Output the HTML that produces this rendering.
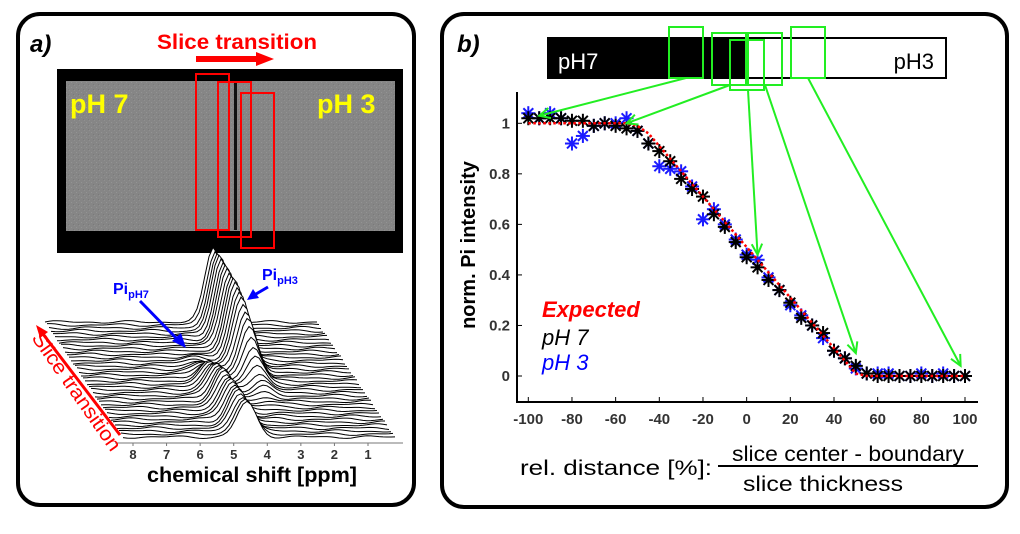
<!DOCTYPE html>
<html><head><meta charset="utf-8">
<style>
html,body{margin:0;padding:0;background:#fff;}
body{width:1020px;height:529px;overflow:hidden;font-family:"Liberation Sans",sans-serif;}
svg text{font-family:"Liberation Sans",sans-serif;}
</style></head>
<body>
<svg id="fig" width="1020" height="529" viewBox="0 0 1020 529" xmlns="http://www.w3.org/2000/svg">
<defs>
<pattern id="noise" width="5" height="5" patternUnits="userSpaceOnUse">
<rect width="5" height="5" fill="#868686"/><rect x="1" y="2" width="1" height="1" fill="#949494"/><rect x="3" y="4" width="1" height="1" fill="#7a7a7a"/><rect x="4" y="0" width="1" height="1" fill="#909090"/>
</pattern>
</defs>
<!-- Panel a -->
<g>
<rect x="18" y="14" width="396" height="491" rx="22" fill="#fff" stroke="#000" stroke-width="4"/>
<text x="30" y="52" font-size="24" font-weight="bold" font-style="italic">a)</text>
<text x="237" y="49" font-size="21" font-weight="bold" fill="#f00" text-anchor="middle" textLength="160" lengthAdjust="spacingAndGlyphs">Slice transition</text>
<g><rect x="196" y="56" width="62" height="6" fill="#f00"/><polygon points="256,52 274,59 256,66" fill="#f00"/></g>
<rect x="57" y="69" width="346" height="184" fill="#000"/>
<rect x="66" y="81" width="329" height="150" fill="url(#noise)"/>
<rect x="234" y="83" width="3" height="147" fill="#111"/>
<text x="70" y="113" font-size="27" font-weight="bold" fill="#ff0">pH 7</text>
<text x="317" y="113" font-size="27" font-weight="bold" fill="#ff0">pH 3</text>
<g fill="none" stroke="#f00" stroke-width="2">
<rect x="196" y="74" width="33" height="156"/><rect x="218" y="82" width="33" height="155"/><rect x="241" y="93" width="33" height="155"/>
</g>
<g id="waterfall"></g>
<line x1="115" y1="443" x2="403" y2="443" stroke="#777" stroke-width="1"/>
<g id="ppmTicks" font-size="13" font-weight="bold" fill="#333" text-anchor="middle"></g>
<text x="252" y="482" font-size="21" font-weight="bold" text-anchor="middle" textLength="210" lengthAdjust="spacingAndGlyphs">chemical shift [ppm]</text>
<g><text x="113" y="294" font-size="16" font-weight="bold" fill="#00f">Pi<tspan font-size="11" dy="4">pH7</tspan></text>
<line x1="140" y1="301" x2="178" y2="340" stroke="#00f" stroke-width="3"/><polygon points="186,348 172,341 181,333" fill="#00f"/></g>
<g><text x="262" y="280" font-size="16" font-weight="bold" fill="#00f">Pi<tspan font-size="11" dy="4">pH3</tspan></text>
<line x1="268" y1="287" x2="256" y2="294" stroke="#00f" stroke-width="3"/><polygon points="247,300 253,289 259,298" fill="#00f"/></g>
<g>
<line x1="120" y1="435" x2="43" y2="334" stroke="#f00" stroke-width="3"/><polygon points="36,325 48,332 40,338" fill="#f00"/>
<text x="0" y="0" font-size="20" fill="#f00" transform="translate(31,338) rotate(55)" textLength="140" lengthAdjust="spacingAndGlyphs">Slice transition</text>
</g>
</g>
<!-- Panel b -->
<g>
<rect x="442" y="14" width="565" height="493" rx="22" fill="#fff" stroke="#000" stroke-width="4"/>
<text x="457" y="52" font-size="24" font-weight="bold" font-style="italic">b)</text>
<rect x="548" y="38" width="398" height="40" fill="#fff" stroke="#000" stroke-width="2"/>
<rect x="548" y="38" width="198" height="40" fill="#000"/>
<text x="558" y="69" font-size="22" fill="#fff">pH7</text>
<text x="934" y="69" font-size="22" fill="#000" text-anchor="end">pH3</text>
<g fill="none" stroke="#2e2" stroke-width="2">
<rect x="669" y="27" width="34" height="51"/><rect x="712" y="33" width="34" height="52"/><rect x="730" y="40" width="34" height="50"/><rect x="748" y="33" width="34" height="52"/><rect x="791" y="27" width="34" height="51"/>
</g>
<g id="plot"></g>
<text transform="translate(475,245) rotate(-90)" font-size="20" font-weight="bold" text-anchor="middle">norm. Pi intensity</text>
<text x="542" y="317" font-size="22" font-weight="bold" font-style="italic" fill="#f00">Expected</text>
<text x="542" y="345" font-size="22" font-style="italic" fill="#000">pH 7</text>
<text x="542" y="370" font-size="22" font-style="italic" fill="#00f">pH 3</text>
<text x="520" y="475" font-size="21" textLength="192" lengthAdjust="spacingAndGlyphs">rel. distance [%]:</text>
<text x="848" y="461" font-size="21" text-anchor="middle" textLength="232" lengthAdjust="spacingAndGlyphs">slice center - boundary</text>
<line x1="718" y1="466" x2="978" y2="466" stroke="#000" stroke-width="2"/>
<text x="823" y="491" font-size="21" text-anchor="middle" textLength="160" lengthAdjust="spacingAndGlyphs">slice thickness</text>
</g>
</svg>
<script>
const NS="http://www.w3.org/2000/svg";
const xVals=[-100,-95,-90,-85,-80,-75,-70,-65,-60,-55,-50,-45,-40,-35,-30,-25,-20,-15,-10,-5,0,5,10,15,20,25,30,35,40,45,50,55,60,65,70,75,80,85,90,95,100];
const ph7Vals=[1.02,1.02,1.02,1.02,1.01,1.01,0.99,1.0,0.99,0.98,0.97,0.92,0.89,0.85,0.78,0.74,0.71,0.64,0.59,0.53,0.47,0.43,0.38,0.34,0.29,0.23,0.20,0.17,0.10,0.07,0.04,0.01,0,0,0,0,0,0,0,0,0];
const ph3Vals=[1.04,1.02,1.04,1.02,0.92,0.95,0.99,1.0,1.0,1.02,0.97,0.92,0.83,0.82,0.81,0.75,0.62,0.66,0.60,0.54,0.48,0.46,0.39,0.34,0.28,0.24,0.20,0.15,0.10,0.07,0.03,0.01,0.01,0.01,0,0,0.01,0,0.01,0,0];
const expX=[-100,-55,-50,-45,50,55,100];
const expY=[1,1,0.99,0.96,0.01,0,0];
const xTicks=[-100,-80,-60,-40,-20,0,20,40,60,80,100];
const yTicks=[0,0.2,0.4,0.6,0.8,1];
const yTickLabels=["0","0.2","0.4","0.6","0.8","1"];
const ppmTicks=[8,7,6,5,4,3,2,1];
const X=v=>528.3+(v+100)*(965-528.3)/200;
const Y=v=>376-v*252.7;
const plot=document.getElementById('plot');
function mk(tag,attrs,parent){const e=document.createElementNS(NS,tag);for(const k in attrs)e.setAttribute(k,attrs[k]);(parent||plot).appendChild(e);return e;}
let ax=mk('line',{x1:517,y1:92,x2:517,y2:402,stroke:'#000','stroke-width':2});


ax=mk('line',{x1:516,y1:402,x2:978,y2:402,stroke:'#000','stroke-width':2});


xTicks.forEach(t=>{
  mk('line',{x1:X(t),y1:402,x2:X(t),y2:397,stroke:'#000','stroke-width':1});
  const tx=mk('text',{x:X(t),y:424,'font-size':15,'font-weight':'bold','text-anchor':'middle',fill:'#333'});
  tx.textContent=t;
  
  
});
yTicks.forEach((t,i)=>{
  mk('line',{x1:517,y1:Y(t),x2:522,y2:Y(t),stroke:'#000','stroke-width':1});
  const tx=mk('text',{x:510,y:Y(t)+5,'font-size':15,'font-weight':'bold','text-anchor':'end',fill:'#333'});
  tx.textContent=yTickLabels[i];
  
  
});
function star(cx,cy,color,name){
  const g=mk('g',{stroke:color,'stroke-width':2});
  
  
  const r=7;
  for(let a=0;a<4;a++){const t=a*Math.PI/4;const dx=r*Math.cos(t),dy=r*Math.sin(t);mk('line',{x1:cx-dx,y1:cy-dy,x2:cx+dx,y2:cy+dy},g);}
}
xVals.forEach((x,i)=>star(X(x),Y(ph3Vals[i]),'#1a1aff','ph3-point'));
xVals.forEach((x,i)=>star(X(x),Y(ph7Vals[i]),'#000','ph7-point'));
let ep=mk('polyline',{points:expX.map((x,i)=>X(x)+','+Y(expY[i])).join(' '),fill:'none',stroke:'#f00','stroke-width':2.5,'stroke-dasharray':'2.5,2.5'});


const arrows=[[686,78,X(-95),Y(1.03)],[730,85,X(-55),Y(1.0)],[748,90,X(5),Y(0.48)],[765,85,X(50),Y(0.09)],[808,78,X(98),Y(0.04)]];
arrows.forEach(a=>{
  const g=mk('g',{stroke:'#2e2','stroke-width':2,fill:'none'});
  
  
  mk('line',{x1:a[0],y1:a[1],x2:a[2],y2:a[3]},g);
  const ang=Math.atan2(a[3]-a[1],a[2]-a[0]);const L=12;
  const p1=[a[2]-L*Math.cos(ang-0.45),a[3]-L*Math.sin(ang-0.45)],p2=[a[2]-L*Math.cos(ang+0.45),a[3]-L*Math.sin(ang+0.45)];
  mk('polyline',{points:p1.join(',')+' '+a[2]+','+a[3]+' '+p2.join(',')},g);
});
const pt=document.getElementById('ppmTicks');
ppmTicks.forEach(v=>{const x=133+(8-v)*(235/7);mk('line',{x1:x,y1:443,x2:x,y2:446,stroke:'#777'},pt);const t=mk('text',{x:x,y:459},pt);t.textContent=v;});
const wf=document.getElementById('waterfall');
const N=40;
for(let k=0;k<N;k++){
  const f=k/(N-1);
  const x0=45+f*78, y0=322+f*115, W=272;
  const a3=75/(1+Math.exp((f-0.5)*14));
  const a7=35/(1+Math.exp(-(f-0.5)*14));
  let pts=[];
  for(let j=0;j<=68;j++){
    const u=j/68;
    let h=Math.sin(u*25+k*1.7)*0.9+Math.sin(u*47+k*0.9)*0.6;
    h+=a3*Math.exp(-Math.pow((u-0.62)/0.045,2));
    h+=a7*Math.exp(-Math.pow((u-0.455)/0.05,2));
    pts.push([x0+u*W,y0-h]);
  }
  const d='M'+pts.map(p=>p[0].toFixed(1)+','+p[1].toFixed(1)).join(' L')+' L'+(x0+W)+','+(y0+3)+' L'+x0+','+(y0+3)+'Z';
  mk('path',{d:d,fill:'#fff',stroke:'none'},wf);
  const line=mk('polyline',{points:pts.map(p=>p[0].toFixed(1)+','+p[1].toFixed(1)).join(' '),fill:'none',stroke:'#000','stroke-width':1},wf);
  
  
}
</script>
</body></html>
